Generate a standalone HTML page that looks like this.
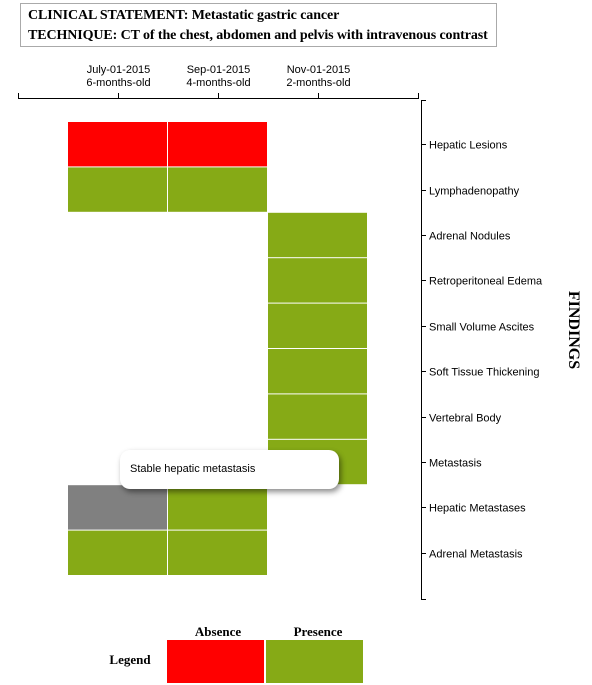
<!DOCTYPE html>
<html><head><meta charset="utf-8"><style>
body{margin:0;background:#fff;width:592px;height:685px;overflow:hidden;position:relative;font-family:"Liberation Sans",sans-serif}
#title{position:absolute;left:20px;top:3px;width:477px;height:44px;border:1px solid #aaa;font-family:"Liberation Serif",serif;font-weight:bold;font-size:14px;line-height:20px;padding:2px 0 0 7px;box-sizing:border-box;white-space:nowrap;letter-spacing:-0.1px}
#tip{position:absolute;left:120px;top:450px;width:219px;height:39px;background:#fff;border-radius:10px;box-shadow:2px 3px 6px rgba(0,0,0,.45);font-size:11px;line-height:39px;padding-left:10px;box-sizing:border-box}
</style></head><body>
<div id="title">CLINICAL STATEMENT: Metastatic gastric cancer<br>TECHNIQUE: CT of the chest, abdomen and pelvis with intravenous contrast</div>
<svg id="chart" width="592" height="685" style="position:absolute;left:0;top:0"></svg>
<div id="tip">Stable hepatic metastasis</div>
<script>
const dates=["July-01-2015","Sep-01-2015","Nov-01-2015"];
const ages=["6-months-old","4-months-old","2-months-old"];
const findings=["Hepatic Lesions","Lymphadenopathy","Adrenal Nodules","Retroperitoneal Edema","Small Volume Ascites","Soft Tissue Thickening","Vertebral Body","Metastasis","Hepatic Metastases","Adrenal Metastasis"];
// status per [finding][date]: 0 absence, 1 presence, 2 stable, null none
const status=[[0,0,null],[1,1,null],[null,null,1],[null,null,1],[null,null,1],[null,null,1],[null,null,1],[null,null,1],[2,1,null],[1,1,null]];
const colors=["#ff0000","#86aa16","#808080"];
const NS="http://www.w3.org/2000/svg";
const svg=document.getElementById('chart');
function el(t,a,p){const e=document.createElementNS(NS,t);for(const k in a)e.setAttribute(k,a[k]);(p||svg).appendChild(e);return e;}
const x=i=>118+i*100;
const y=j=>122+j*45.4;
status.forEach((row,j)=>row.forEach((s,i)=>{if(s===null)return;
 const r=el('rect',{x:x(i)-50,y:y(j),width:99,height:44.4,fill:colors[s]});
 
 
}));
const xa=el('g',{});


el('path',{d:'M18.5,93V98.5H418.5V93',stroke:'#000',fill:'none'},xa);
dates.forEach((d,i)=>{
 el('line',{x1:x(i)+.5,x2:x(i)+.5,y1:93,y2:98,stroke:'#000'},xa);
 const t=el('text',{x:x(i)+.5,y:73,'text-anchor':'middle','font-size':11},xa);t.textContent=d;
 
 
 const t2=el('text',{x:x(i)+.5,y:86,'text-anchor':'middle','font-size':11},xa);t2.textContent=ages[i];
 
 
});
const ya=el('g',{});


el('path',{d:'M426,100.5H421.5V599.5H426',stroke:'#000',fill:'none'},ya);
findings.forEach((f,j)=>{
 const cy=Math.round(y(j)+22.2)+.5;
 el('line',{x1:421,x2:426,y1:cy,y2:cy,stroke:'#000'},ya);
 const t=el('text',{x:429,y:cy+4,'font-size':11},ya);t.textContent=f;
 
 
});
const yt=el('text',{x:569,y:330,'text-anchor':'middle','font-size':16,'font-weight':'bold','font-family':'Liberation Serif,serif',transform:'rotate(90 569 330)'});
yt.textContent='FINDINGS';


const legLabels=["Absence","Presence"];
legLabels.forEach((l,i)=>{
 const r=el('rect',{x:167+i*99,y:640,width:97,height:43,fill:colors[i]});
 
 
 const t=el('text',{x:218+i*100,y:636,'text-anchor':'middle','font-size':13,'font-weight':'bold','font-family':'Liberation Serif,serif'});t.textContent=l;
 
 
});
const lg=el('text',{x:130,y:664,'text-anchor':'middle','font-size':13,'font-weight':'bold','font-family':'Liberation Serif,serif'});lg.textContent='Legend';


</script>
</body></html>
